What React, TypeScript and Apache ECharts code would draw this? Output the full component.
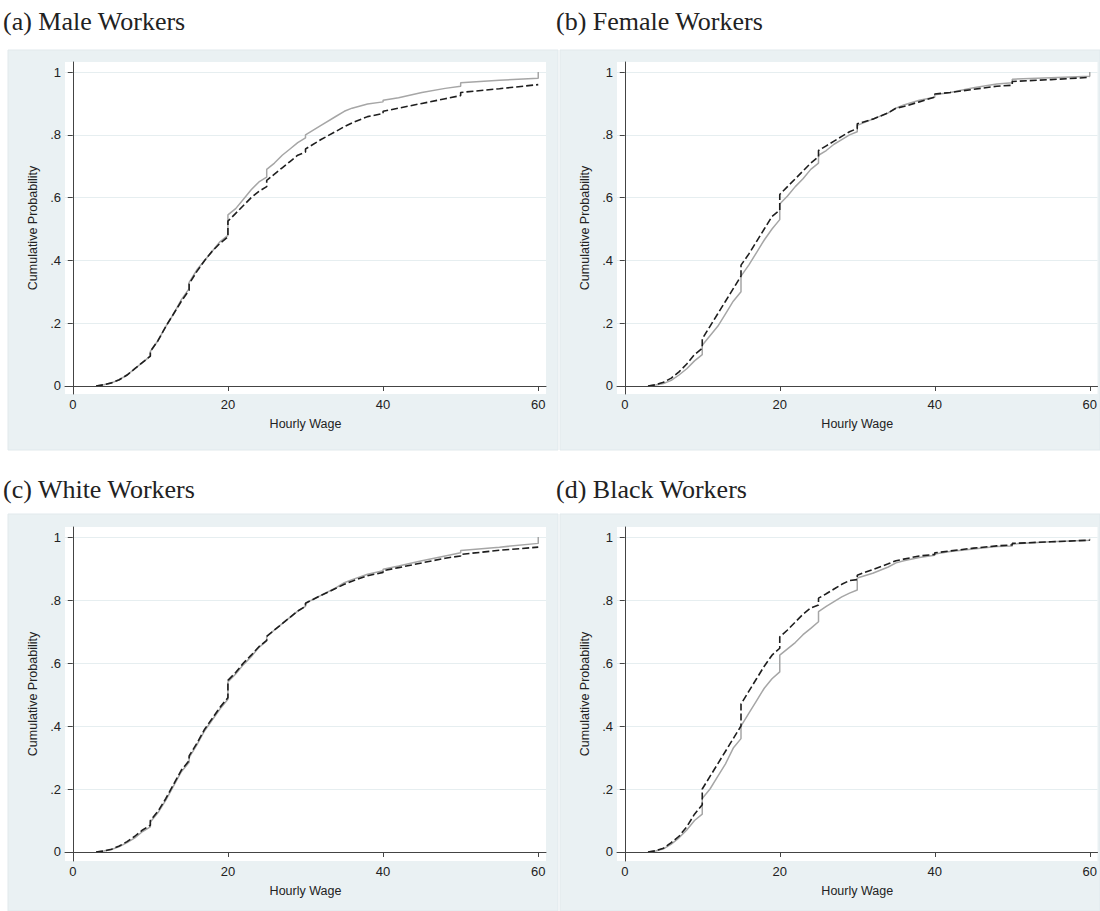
import React, { useEffect, useRef } from "react";
import * as echarts from "echarts";

// wage points; repeated wages mark the visible jumps of the step CDFs
const WAGES = [3,4,5,6,7,8,9, 10,10, 11,12,13,14, 15,15, 16,17,18,19, 20,20, 21,22,23,24, 25,25, 26,27,28,29, 30,30, 32,34,35,36,38, 40,40, 42,45,48, 50,50, 55, 60,60];

const maleGray = [0,.004,.01,.02,.035,.055,.075, .095,.11, .145,.19,.23,.275, .31,.33, .37,.40,.43,.46, .48,.545, .565,.595,.625,.65, .665,.69, .71,.735,.755,.775, .79,.80, .83,.86,.875,.885,.898, .905,.91, .918,.935,.948, .955,.966, .974, .98,1.0];
const maleDash = [0,.004,.01,.02,.035,.055,.075, .095,.11, .145,.19,.23,.27, .305,.325, .365,.40,.43,.455, .475,.525, .55,.575,.60,.62, .635,.655, .675,.695,.715,.735, .745,.755, .785,.812,.826,.838,.858, .868,.875, .885,.90,.915, .925,.935, .947, .96,.96];

const femaleGray = [0,.003,.008,.018,.035,.055,.08, .10,.13, .16,.19,.23,.27, .30,.35, .385,.425,.465,.50, .53,.58, .605,.635,.66,.69, .71,.735, .75,.77,.785,.80, .81,.83, .85,.87,.885,.895,.91, .92,.928, .935,.95,.962, .966,.977, .982, .987,1.0];
const femaleDash = [0,.004,.012,.025,.045,.07,.10, .12,.15, .19,.23,.27,.31, .35,.385, .42,.46,.50,.54, .56,.61, .635,.66,.685,.71, .73,.75, .765,.78,.795,.81, .82,.835, .85,.87,.885,.89,.905, .92,.93, .935,.945,.955, .958,.97, .976, .983,.983];

const whiteGray = [0,.003,.008,.017,.03,.045,.065, .08,.095, .125,.165,.21,.255, .285,.30, .34,.385,.42,.455, .485,.54, .565,.595,.62,.65, .67,.685, .705,.725,.745,.765, .78,.79, .815,.84,.855,.865,.882, .893,.898, .908,.925,.94, .95,.957, .968, .98,1.0];
const whiteDash = [0,.003,.009,.019,.033,.05,.07, .085,.10, .13,.17,.215,.26, .29,.305, .345,.39,.425,.46, .49,.545, .57,.60,.625,.652, .672,.685, .705,.725,.745,.765, .78,.79, .815,.838,.85,.86,.877, .888,.893, .903,.918,.933, .94,.945, .958, .968,.968];

const blackGray = [0,.003,.01,.025,.045,.07,.10, .12,.17, .20,.24,.28,.33, .36,.40, .44,.48,.52,.55, .572,.625, .645,.665,.69,.71, .731,.763, .78,.795,.81,.822, .832,.87, .885,.905,.918,.925,.935, .942,.946, .954,.962,.97, .972,.978, .985, .99,.995];
const blackDash = [0,.004,.012,.03,.05,.08,.12, .15,.20, .24,.28,.32,.36, .40,.47, .51,.55,.59,.625, .647,.683, .705,.73,.755,.775, .784,.806, .82,.835,.85,.862, .865,.879, .897,.915,.925,.93,.94, .945,.95, .956,.965,.972, .975,.98, .985, .99,.99];

const TITLES = ["(a) Male Workers", "(b) Female Workers", "(c) White Workers", "(d) Black Workers"];
const PANELS = [
  [maleGray, maleDash],
  [femaleGray, femaleDash],
  [whiteGray, whiteDash],
  [blackGray, blackDash],
];
const X_TICKS = [0, 20, 40, 60];
const Y_TICKS = [0, 0.2, 0.4, 0.6, 0.8, 1];
const Y_TICK_LABELS = ["0", ".2", ".4", ".6", ".8", "1"];

export default function App() {
  const ref = useRef<HTMLDivElement>(null);
  useEffect(() => {
    document.body.style.margin = "0";
    const chart = echarts.init(ref.current!, null, { renderer: "svg" });
    const lefts = [65, 617];
    const tops = [62, 527];
    const heights = [332, 334];
    const yMins = [-0.0255, -0.0286];
    const bgs = [
      { x: 8, y: 50, w: 550, h: 400 },
      { x: 560, y: 50, w: 540, h: 400 },
      { x: 8, y: 514, w: 550, h: 397 },
      { x: 560, y: 514, w: 540, h: 397 },
    ];
    const titleTops = [8, 476];
    const titleLefts = [3, 556];
    const grids: any[] = [];
    const xAxes: any[] = [];
    const yAxes: any[] = [];
    const series: any[] = [];
    const titles: any[] = [];
    const axisLabelStyle = { color: "#222", fontFamily: "Liberation Sans", fontSize: 13 };
    for (let i = 0; i < 4; i++) {
      const col = i % 2;
      const row = Math.floor(i / 2);
      grids.push({
        left: lefts[col],
        top: tops[row],
        width: 481,
        height: heights[row],
        show: true,
        backgroundColor: "#ffffff",
        borderWidth: 0,
      });
      titles.push({
        text: TITLES[i],
        left: titleLefts[col],
        top: titleTops[row],
        padding: 0,
        textStyle: { fontFamily: "Liberation Serif", fontSize: 26, fontWeight: "normal", color: "#222" },
      });
      xAxes.push({
        type: "value",
        gridIndex: i,
        min: -1,
        max: 61,
        name: "Hourly Wage",
        nameLocation: "middle",
        nameGap: 23,
        nameTextStyle: { color: "#222", fontFamily: "Liberation Sans", fontSize: 12.5 },
        axisLine: { show: true, lineStyle: { color: "#444", width: 1 } },
        axisTick: { show: true, length: 5, customValues: X_TICKS, lineStyle: { color: "#444" } },
        axisLabel: { customValues: X_TICKS, margin: 4, ...axisLabelStyle },
        splitLine: { show: false },
      });
      yAxes.push({
        type: "value",
        gridIndex: i,
        min: yMins[row],
        max: 1.032,
        name: "Cumulative Probability",
        nameLocation: "middle",
        nameGap: 26,
        nameTextStyle: { color: "#222", fontFamily: "Liberation Sans", fontSize: 12.5 },
        axisLine: { show: true, lineStyle: { color: "#444", width: 1 } },
        axisTick: { show: true, length: 5, customValues: Y_TICKS, lineStyle: { color: "#444" } },
        axisLabel: {
          customValues: Y_TICKS,
          margin: 4,
          ...axisLabelStyle,
          formatter: (v: number) => {
            const k = Y_TICKS.findIndex((t) => Math.abs(t - v) < 1e-6);
            return k >= 0 ? Y_TICK_LABELS[k] : "";
          },
        },
        splitLine: { show: true, lineStyle: { color: "#e6eef0", width: 1 } },
      });
      const [g, d] = PANELS[i];
      series.push({
        type: "line",
        xAxisIndex: i,
        yAxisIndex: i,
        showSymbol: false,
        data: WAGES.map((w, k) => [w, g[k]]),
        lineStyle: { color: "#a6a6a6", width: 1.5 },
        z: 2,
      });
      series.push({
        type: "line",
        xAxisIndex: i,
        yAxisIndex: i,
        showSymbol: false,
        data: WAGES.map((w, k) => [w, d[k]]),
        lineStyle: { color: "#1e1e1e", width: 1.6, type: [7, 3] },
        z: 3,
      });
    }
    chart.setOption({
      animation: false,
      backgroundColor: "#ffffff",
      title: titles,
      grid: grids,
      xAxis: xAxes,
      yAxis: yAxes,
      series,
      graphic: bgs.map((b) => ({
        type: "rect",
        z: -100,
        silent: true,
        shape: { x: b.x, y: b.y, width: b.w, height: b.h },
        style: { fill: "#eaf1f3", stroke: "#e1e9ec", lineWidth: 1 },
      })),
    });
    return () => chart.dispose();
  }, []);
  return <div ref={ref} style={{ width: 1100, height: 911 }} />;
}
